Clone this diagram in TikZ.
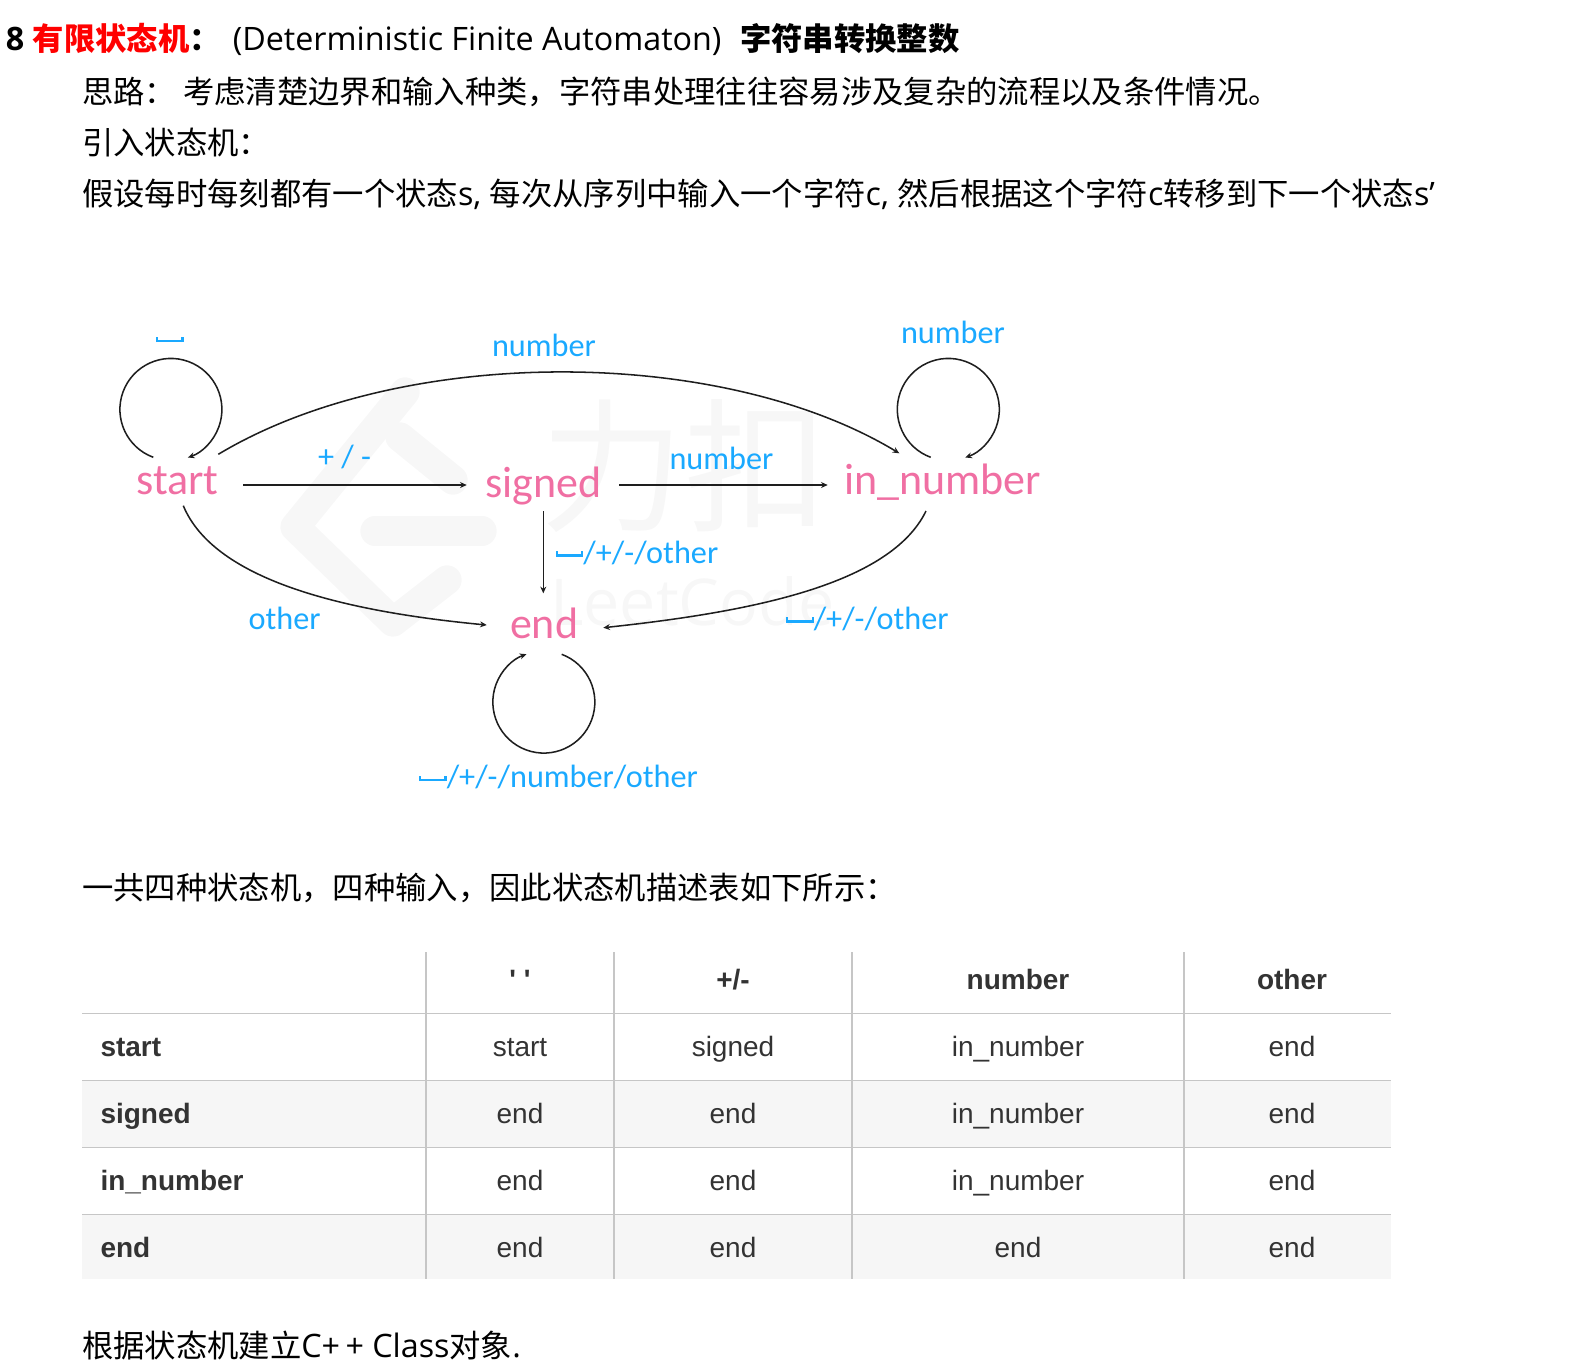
\documentclass[tikz,border=0pt]{standalone}
\usepackage{fontspec}
\setmainfont{Open Sans}[Scale=1.03]
\newfontfamily\cjk{Noto Sans CJK SC}
\newfontfamily\calib{Carlito}
\newfontfamily\arial{Liberation Sans}
\usetikzlibrary{arrows.meta}
\definecolor{labblue}{HTML}{1AA9FF}
\definecolor{pinkst}{HTML}{F06FA3}
\definecolor{linecol}{HTML}{1E1E1E}
\definecolor{rulecol}{HTML}{C6C6C6}
\definecolor{rowbg}{HTML}{F6F6F6}
\definecolor{wm}{HTML}{F7F7F7}
\definecolor{tabtext}{HTML}{333333}
\newcommand{\Z}[1]{{\cjk #1}}
\newcommand{\spc}{\raisebox{.2em}{\rule{.07em}{.17em}\rule{.72em}{.07em}\rule{.07em}{.17em}}}
\tikzset{
 x=.75pt,y=.75pt,
 txt/.style={anchor=base west,inner sep=0pt,outer sep=0pt,text=black,font=\fontsize{23.5}{28}\selectfont},
 state/.style={anchor=base west,inner sep=0pt,outer sep=0pt,text=pinkst,font=\calib\fontsize{33}{38}\selectfont},
 lab/.style={anchor=base west,inner sep=0pt,outer sep=0pt,text=labblue,font=\calib\fontsize{24.2}{29}\selectfont},
 conn/.style={draw=linecol,line width=1.15pt,-{Stealth[length=5pt,width=4.5pt]}},
 cell/.style={anchor=base,inner sep=0pt,outer sep=0pt,text=tabtext,font=\arial\fontsize{21}{25}\selectfont},
 hcell/.style={cell,font=\arial\bfseries\fontsize{21}{25}\selectfont},
 rowh/.style={hcell,anchor=base west},
 rulel/.style={draw=rulecol,line width=1.1pt},
 wmark/.style={draw=wm,line width=22pt,line cap=round,line join=round},
 wmtext/.style={anchor=base west,inner sep=0pt,text=wm},
}
\begin{document}
\begin{tikzpicture}
\useasboundingbox (0,0) rectangle (1576,-1364);
% text lines
\node[txt] (t1) at (6,-50) {\textbf{8 }\textcolor{red}{\textbf{\Z{有限状态机}}}\textbf{\Z{：}}\hspace{9pt}(Deterministic Finite Automaton)\hspace{14pt}\textbf{\Z{字符串转换整数}}};
\node[txt] (t2) at (82,-103) {\Z{思路：\ 考虑清楚边界和输入种类，字符串处理往往容易涉及复杂的流程以及条件情况。}};
\node[txt] (t3) at (82,-154) {\Z{引入状态机：}};
\node[txt] (t4) at (82,-205) {\Z{假设每时每刻都有一个状态}s, \Z{每次从序列中输入一个字符}c, \Z{然后根据这个字符}c\Z{转移到下一个状态}s'};
\node[txt] (t5) at (82,-899) {\Z{一共四种状态机，四种输入，因此状态机描述表如下所示：}};
\node[txt] (t6) at (82,-1357) {\Z{根据状态机建立}C+\,+ Class\Z{对象}.};
% watermark
\draw[wmark] (405,-392) -- (295,-527) -- (393,-622) -- (447,-580);
\draw[wmark] (400,-437) -- (453,-480);
\draw[wmark] (375,-531) -- (482,-531);
\node[wmtext,font=\cjk\fontsize{108}{118}\selectfont] (wm1) at (540,-520) {力扣};
\node[wmtext,font=\fontsize{47}{60}\selectfont] (wm2) at (550,-625) {LeetCode};
% states
\node[state] (start) at (136.5,-494) {start};
\node[state] (signed) at (485.5,-497.5) {signed};
\node[state] (innum) at (844,-494) {in\_number};
\node[state] (endst) at (510,-638) {end};
% connector ends
\coordinate (a1) at (153.3,-457.3);
\coordinate (a2) at (218.3,-454.3);
\coordinate (a3) at (899.3,-453.3);
\coordinate (a4) at (243.3,-485);
\coordinate (a5) at (466.7,-485);
\coordinate (a6) at (619.3,-485);
\coordinate (a7) at (827.7,-485);
\coordinate (a8) at (543.3,-511);
\coordinate (a9) at (543.3,-593.3);
\coordinate (a10) at (183.3,-505.7);
\coordinate (a11) at (486.7,-625);
\coordinate (a12) at (926,-511);
\coordinate (a13) at (603.3,-627.7);
\coordinate (a14) at (930.7,-457.3);
\coordinate (a15) at (561.7,-654.3);
% connectors
\draw[conn] (a1) arc[start angle=249.8,end angle=-70.5,radius=51];
\draw[conn] (a14) arc[start angle=249.8,end angle=-70.5,radius=51];
\draw[conn] (a15) arc[start angle=69.5,end angle=-250,radius=51];
\draw[conn] (a2) .. controls (400,-345) and (720,-345) .. (a3);
\draw[conn] (a4) -- (a5);
\draw[conn] (a6) -- (a7);
\draw[conn] (a8) -- (a9);
\draw[conn] (a10) .. controls (215,-582) and (350,-612) .. (a11);
\draw[conn] (a12) .. controls (890,-585) and (750,-612) .. (a13);
% labels
\node[lab] (l1) at (156,-348.5) {\spc};
\node[lab] (l2) at (492,-356) {number};
\node[lab] (l3) at (901,-343.5) {number};
\node[lab] (l4) at (669.5,-469.5) {number};
\node[lab] (l5) at (318,-467) {+ / -};
\node[lab] (l6) at (248.5,-629) {other};
\node[lab] (l7) at (555.7,-563) {\spc/+/-/other};
\node[lab] (l8) at (786,-629) {\spc/+/-/other};
\node[lab] (l9) at (419,-787.5) {\spc/+/-/number/other};
% table
\fill[rowbg] (82,-1081) rectangle (1391,-1147.5);
\fill[rowbg] (82,-1215) rectangle (1391,-1279);
\foreach \yy in {1013.5,1080.5,1147.5,1214.5} \draw[rulel] (82,-\yy) -- (1391,-\yy);
\foreach \xx in {426,614,852,1184} \draw[rulel] (\xx,-952) -- (\xx,-1279);
\node[hcell] (h1) at (520,-989.5) {' '};
\node[hcell] (h2) at (733,-989.5) {+/-};
\node[hcell] (h3) at (1018,-989.5) {number};
\node[hcell] (h4) at (1292,-989.5) {other};
\node[rowh] (r1) at (100.5,-1056.5) {start};
\node[rowh] (r2) at (100.5,-1123.5) {signed};
\node[rowh] (r3) at (100.5,-1190.5) {in\_number};
\node[rowh] (r4) at (100.5,-1257.5) {end};
\node[cell] (c11) at (520,-1056.5) {start};
\node[cell] (c12) at (733,-1056.5) {signed};
\node[cell] (c13) at (1018,-1056.5) {in\_number};
\node[cell] (c14) at (1292,-1056.5) {end};
\node[cell] (c21) at (520,-1123.5) {end};
\node[cell] (c22) at (733,-1123.5) {end};
\node[cell] (c23) at (1018,-1123.5) {in\_number};
\node[cell] (c24) at (1292,-1123.5) {end};
\node[cell] (c31) at (520,-1190.5) {end};
\node[cell] (c32) at (733,-1190.5) {end};
\node[cell] (c33) at (1018,-1190.5) {in\_number};
\node[cell] (c34) at (1292,-1190.5) {end};
\node[cell] (c41) at (520,-1257.5) {end};
\node[cell] (c42) at (733,-1257.5) {end};
\node[cell] (c43) at (1018,-1257.5) {end};
\node[cell] (c44) at (1292,-1257.5) {end};
\end{tikzpicture}
\end{document}
